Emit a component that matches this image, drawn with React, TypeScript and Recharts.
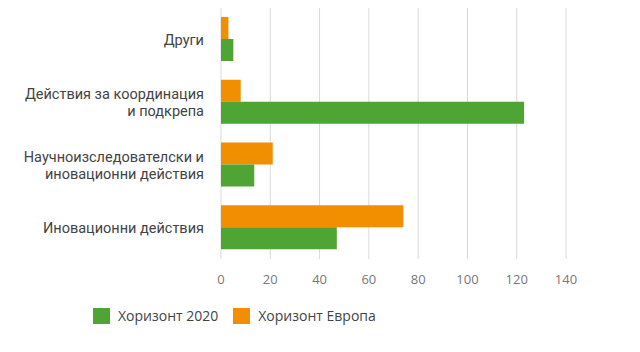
import { BarChart, Bar, XAxis, YAxis, CartesianGrid } from "recharts";

const CATEGORIES = [
  "Други",
  "Действия за координация\nи подкрепа",
  "Научноизследователски и\nиновационни действия",
  "Иновационни действия",
];
const EUROPE = [3, 8, 21, 74];
const H2020 = [5, 123, 13.5, 47];
const X_TICKS = [0, 20, 40, 60, 80, 100, 120, 140];

const SERIES = [
  { key: "h2020", label: "Хоризонт 2020", color: "#4ea533" },
  { key: "europe", label: "Хоризонт Европа", color: "#f28f00" },
];

const data = CATEGORIES.map((name, i) => ({ name, europe: EUROPE[i], h2020: H2020[i] }));

const FONT = "'Open Sans', sans-serif";
const LABEL_FONT = "Roboto, sans-serif";

function CategoryTick({ x, y, payload }: any) {
  const lines = String(payload.value).split("\n");
  const lh = 17.5;
  const start = -((lines.length - 1) * lh) / 2;
  return (
    <g>
      {lines.map((l, i) => (
        <text
          key={i}
          x={x}
          y={y + start + i * lh}
          dy="0.38em"
          textAnchor="end"
          fill="#444"
          fontSize={14.5}
          fontFamily={LABEL_FONT}
        >
          {l}
        </text>
      ))}
    </g>
  );
}

export default function App() {
  return (
    <div style={{ position: "absolute", left: 0, top: 0, width: 640, height: 352, background: "#fff" }}>
      <BarChart
        width={640}
        height={290}
        data={data}
        layout="vertical"
        margin={{ top: 8, right: 74, left: 0, bottom: 1 }}
        barCategoryGap={9}
        barGap={0}
      >
        <CartesianGrid horizontal={false} stroke="#d9d9d9" />
        <XAxis
          type="number"
          domain={[0, 140]}
          ticks={X_TICKS}
          axisLine={false}
          tickLine={false}
          tickMargin={10}
          height={30}
          tick={{ fill: "#777", fontSize: 13, fontFamily: FONT }}
        />
        <YAxis
          type="category"
          dataKey="name"
          width={221}
          axisLine={false}
          tickLine={false}
          tickMargin={11}
          interval={0}
          tick={<CategoryTick />}
        />
        <Bar dataKey="europe" fill="#f28f00" isAnimationActive={false} />
        <Bar dataKey="h2020" fill="#4ea533" isAnimationActive={false} />
      </BarChart>
      <div
        style={{
          position: "absolute",
          top: 306,
          left: 93,
          display: "flex",
          alignItems: "center",
          fontFamily: FONT,
          fontSize: 14,
          color: "#444",
        }}
      >
        {SERIES.map((s) => (
          <div key={s.key} style={{ display: "flex", alignItems: "center", marginRight: 15 }}>
            <span style={{ width: 17, height: 16, background: s.color, display: "inline-block", marginRight: 8 }} />
            <span>{s.label}</span>
          </div>
        ))}
      </div>
    </div>
  );
}
